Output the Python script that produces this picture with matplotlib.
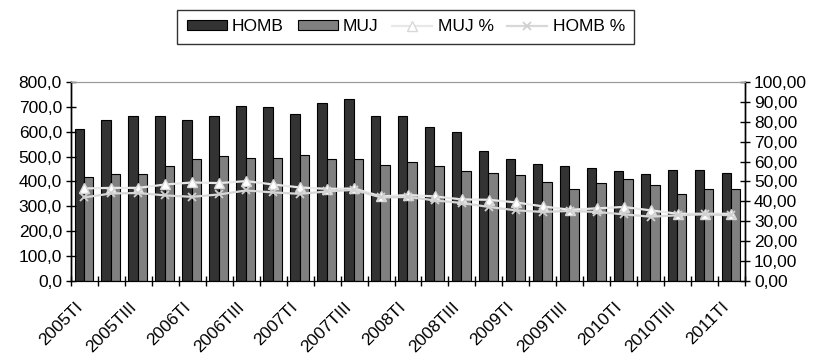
import matplotlib
matplotlib.use("Agg")
import matplotlib.pyplot as plt
from matplotlib.ticker import FuncFormatter, MultipleLocator
import numpy as np

plt.rcParams['font.family'] = ['Liberation Sans', 'DejaVu Sans']

quarters = [f"{y}T{q}" for y in range(2005, 2012) for q in ("I", "II", "III", "IV")][:25]

homb = [610, 648, 665, 665, 648, 665, 703, 698, 673, 717, 733, 665, 665,
        619, 600, 521, 489, 470, 464, 454, 442, 429, 448, 448, 436]
muj = [420, 429, 429, 461, 491, 501, 496, 496, 508, 491, 491, 466, 480,
       461, 442, 434, 425, 399, 369, 393, 410, 387, 349, 369, 369]
muj_pct = [46.5, 46.8, 46.8, 48.5, 49.5, 49.2, 50.2, 48.5, 47.0, 46.3, 46.5, 42.5, 43.2,
           42.5, 41.0, 40.8, 39.5, 37.5, 35.8, 36.5, 37.2, 35.5, 33.8, 33.8, 33.8]
homb_pct = [42.0, 44.0, 44.2, 43.0, 42.3, 43.5, 45.5, 44.5, 43.8, 45.0, 45.8, 42.0, 42.2,
            40.5, 39.2, 37.2, 35.5, 34.7, 35.2, 34.7, 33.5, 32.3, 33.0, 33.5, 33.0]

x = np.arange(len(quarters))
w = 0.35
fs = 12.5

fig = plt.figure(figsize=(8.2, 3.55), dpi=100)
ax = fig.add_axes([0.0866, 0.2085, 0.8219, 0.5605])

b1 = ax.bar(x - w / 2 - 0.02, homb, w, color="#333333", edgecolor="black", linewidth=0.8, label="HOMB")
b2 = ax.bar(x + w / 2 - 0.02, muj, w, color="#808080", edgecolor="black", linewidth=0.8, label="MUJ")
ax.set_ylim(0, 800)
ax.set_xlim(-0.5, len(quarters) - 0.5)
ax.yaxis.set_major_locator(MultipleLocator(100))
ax.yaxis.set_major_formatter(FuncFormatter(lambda v, p: f"{v:.1f}".replace(".", ",")))

# category labels sit slightly left of the group centre, as in the spreadsheet style
ax.set_xticks(x[::2] - 0.37)
ax.set_xticklabels(quarters[::2], rotation=45, ha="right", va="top", rotation_mode="anchor")
ax.set_xticks(np.arange(-0.5, len(quarters), 1), minor=True)
ax.tick_params(axis="x", which="major", length=0, pad=13, labelsize=fs)
ax.tick_params(axis="x", which="minor", direction="inout", length=7, width=1)
ax.tick_params(axis="y", direction="inout", length=7, width=1, labelsize=fs, pad=3)

ax2 = ax.twinx()
ax2.set_ylim(0, 100)
ax2.yaxis.set_major_locator(MultipleLocator(10))
ax2.yaxis.set_major_formatter(FuncFormatter(lambda v, p: f"{v:.2f}".replace(".", ",")))
ax2.tick_params(axis="y", direction="inout", length=7, width=1, labelsize=fs, pad=3)

l1, = ax2.plot(x, muj_pct, color="#e8e8e8", lw=1.6, marker="^", markersize=7,
               markerfacecolor="white", markeredgecolor="#d8d8d8", label="MUJ %")
l2, = ax2.plot(x, homb_pct, color="#d8d8d8", lw=1.6, marker="x", markersize=6,
               markeredgecolor="#d0d0d0", markeredgewidth=1.3, label="HOMB %")

for a in (ax, ax2):
    a.spines["top"].set_color("#9a9a9a")
    a.spines["left"].set_linewidth(1)
    a.spines["right"].set_linewidth(1)

fig.legend(handles=[b1, b2, l1, l2], loc="center", bbox_to_anchor=(0.495, 0.925),
           ncol=4, frameon=True, fancybox=False, edgecolor="black", fontsize=fs,
           handlelength=2.3, columnspacing=0.8, handletextpad=0.3, borderpad=0.55,
           handleheight=0.5)

fig.savefig("out.png", dpi=100)
